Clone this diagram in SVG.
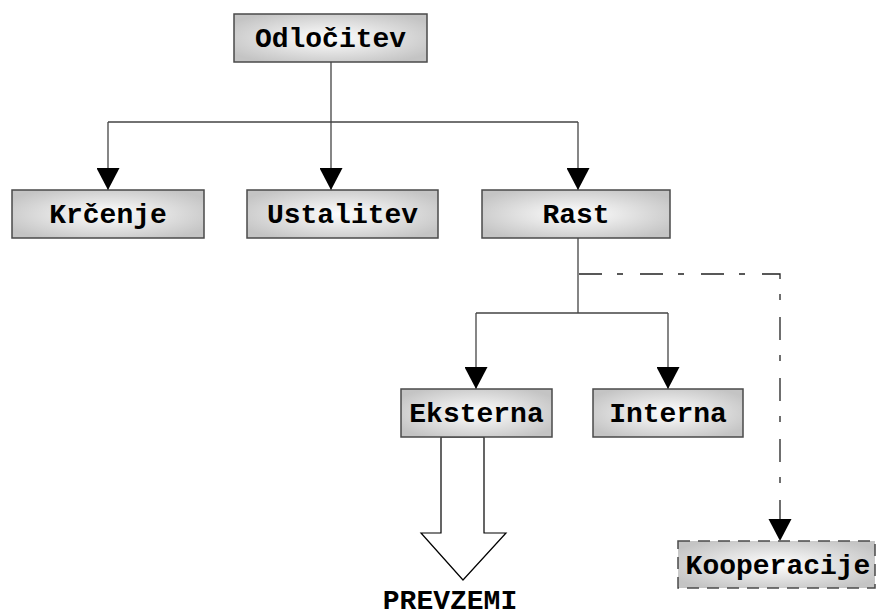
<svg xmlns="http://www.w3.org/2000/svg" width="877" height="616" viewBox="0 0 877 616">
<defs>
<radialGradient id="g" cx="50%" cy="50%" r="60%">
<stop offset="0" stop-color="#ffffff"/>
<stop offset="1" stop-color="#c4c4c4"/>
</radialGradient>
<marker id="ah" markerUnits="userSpaceOnUse" markerWidth="22" markerHeight="23" refX="22" refY="11.5" orient="auto" viewBox="0 0 22 23">
<path d="M0,0 L22,11.5 L0,23 Z" fill="#000"/>
</marker>
</defs>
<style>
.box{fill:url(#g);stroke:#4a4a4a;stroke-width:1.5}
.dbox{fill:url(#g);stroke:#4a4a4a;stroke-width:1.5;stroke-dasharray:12 8}
.t{font-family:"Liberation Mono","Courier New",monospace;font-weight:bold;font-size:28px;text-anchor:middle;fill:#000}
.c{fill:none;stroke:#444;stroke-width:1.3}
.ca{fill:none;stroke:#444;stroke-width:1.3;marker-end:url(#ah)}
.dash{fill:none;stroke:#222;stroke-width:1.3;stroke-dasharray:23 15 6 17}
</style>
<g id="connectors">
<path class="c" d="M331,62 V122 M108,122 H578 M578,238 V313 M476,313 H668"/>
<path class="ca" d="M108,122 V190"/>
<path class="ca" d="M331,122 V190"/>
<path class="ca" d="M578,122 V190"/>
<path class="ca" d="M476,313 V389"/>
<path class="ca" d="M668,313 V389"/>
<path class="dash" d="M579,274 H780 V519"/>
<path d="M768.5,519 L791.5,519 L780,541 Z" fill="#000"/>
<polygon points="441,437 441,533 421,533 463,580 506,533 484,533 484,437" fill="#fff" stroke="#000" stroke-width="1.2"/>
</g>
<g id="odlocitev"><rect class="box" x="234" y="14" width="193" height="48"/><text class="t" x="330.5" y="47">Odločitev</text></g>
<g id="krcenje"><rect class="box" x="12" y="190" width="192" height="48"/><text class="t" x="108" y="223">Krčenje</text></g>
<g id="ustalitev"><rect class="box" x="247" y="190" width="191" height="48"/><text class="t" x="342.5" y="223">Ustalitev</text></g>
<g id="rast"><rect class="box" x="482" y="190" width="188" height="48"/><text class="t" x="576" y="223">Rast</text></g>
<g id="eksterna"><rect class="box" x="401" y="389" width="151" height="48"/><text class="t" x="476.5" y="422">Eksterna</text></g>
<g id="interna"><rect class="box" x="593" y="389" width="150" height="48"/><text class="t" x="668" y="422">Interna</text></g>
<g id="kooperacije"><rect class="dbox" x="678" y="541" width="197" height="47"/><text class="t" x="778" y="574">Kooperacije</text></g>
<g id="prevzemi"><text class="t" x="450" y="609">PREVZEMI</text></g>
</svg>
